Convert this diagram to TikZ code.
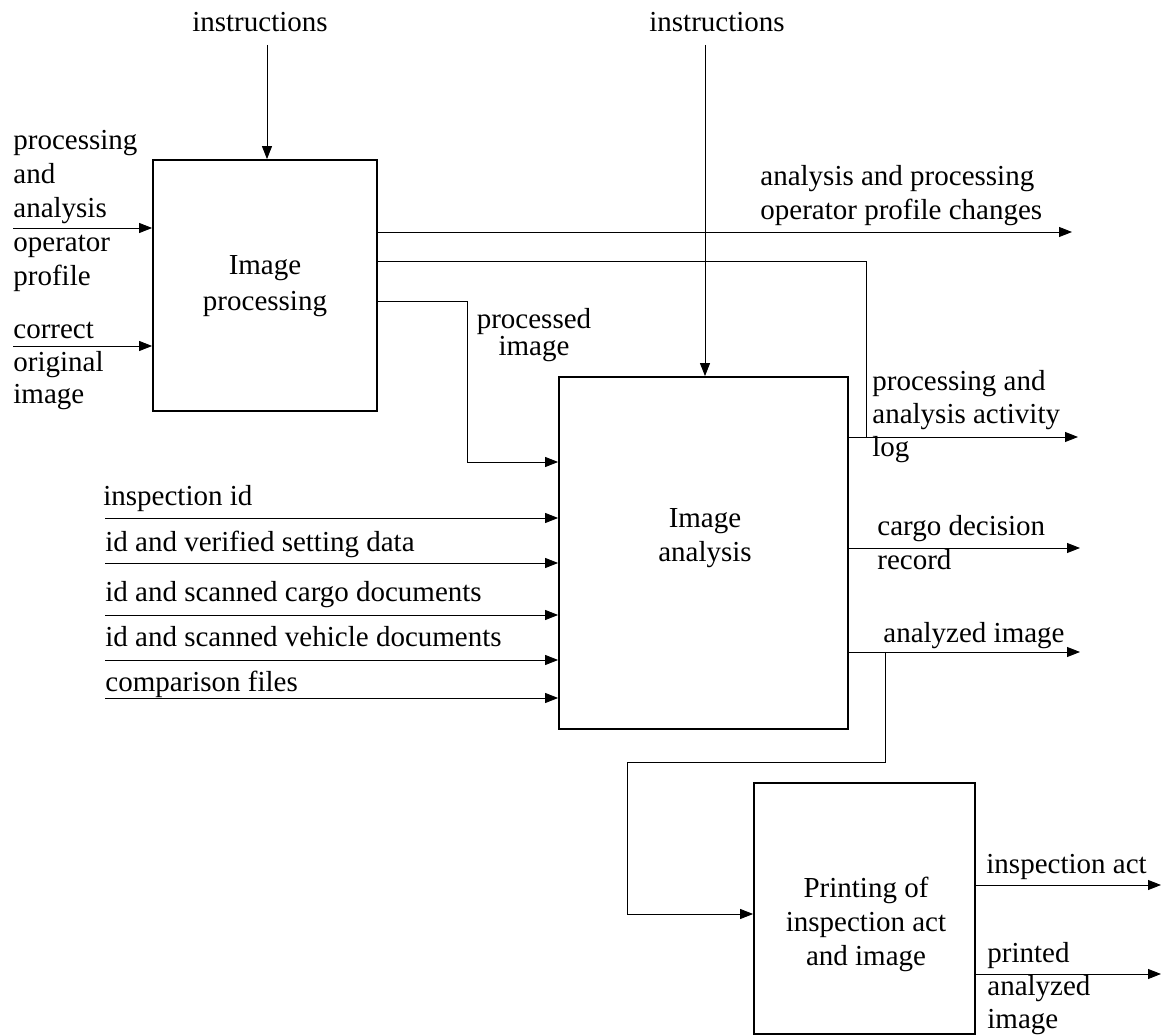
\documentclass[tikz,border=0pt]{standalone}
\usepackage{fontspec}
\setmainfont{Liberation Serif}
\usetikzlibrary{arrows.meta,positioning}

\tikzset{
  blk/.style={draw, line width=0.9pt, inner sep=0pt},
  lbl/.style={inner sep=0pt, align=left, anchor=north west},
  ctr/.style={inner sep=0pt, align=center, anchor=north},
  ln/.style={line width=0.45pt},
  arr/.style={ln, -{Triangle[length=6.5pt,width=5pt]}},
}

\begin{document}
\begin{tikzpicture}[x=0.5pt, y=-0.5pt, font={\fontsize{14.5}{17}\selectfont}]
    \useasboundingbox (0,0) rectangle (1161,1036);

    % Function blocks
    \node[blk, minimum width=112pt, minimum height=125.5pt] (proc) at (265,285.5) {};
    \node[blk, minimum width=144.5pt, minimum height=176pt] (ana) at (703.5,553) {};
    \node[blk, minimum width=110.5pt, minimum height=125.5pt] (prn) at (864.5,908.5) {};

    \node[ctr] (proctxt) at (265,255) {Image\\[1pt]processing};
    \node[ctr] (anatxt) at (705,508) {Image\\analysis};
    \node[ctr] (prntxt) at (866,877) {Printing of\\inspection act\\and image};

    % Controls
    \node[ctr] (instr1) at (260,12) {instructions};
    \node[ctr] (instr2) at (717,12) {instructions};
    \coordinate (i1) at (267,45);
    \coordinate (i2) at (705,45);
    \draw[arr] (i1) -- (i1 |- proc.north);
    \draw[arr] (i2) -- (i2 |- ana.north);

    % Inputs of image processing
    \node[lbl] (profin) at (13,130) {processing\\and\\analysis\\operator\\profile};
    \node[lbl] (origin) at (13,322) {correct\\[-0.7pt]original\\[-0.7pt]image};
    \coordinate (p1) at (13,228);
    \coordinate (p2) at (13,346);
    \draw[arr] (p1) -- (p1 -| proc.west);
    \draw[arr] (p2) -- (p2 -| proc.west);

    % Outputs of image processing
    \node[lbl] (profout) at (760,165) {analysis and processing\\operator profile changes};
    \coordinate (o1) at (1072,232);
    \draw[arr] (o1 -| proc.east) -- (o1);

    \coordinate (lgj) at (866,261);
    \coordinate (lg) at (1078,437);
    \draw[ln] (proc.east |- lgj) -- (lgj) -- (lgj |- lg);

    \node[ctr] (procimg) at (534,308) {processed\\[-3.5pt]image};
    \coordinate (pi) at (467,301);
    \coordinate (pj) at (467,462);
    \draw[arr] (proc.east |- pi) -- (pi) -- (pj) -- (pj -| ana.west);

    % Inputs of image analysis
    \node[lbl] (inspid) at (103,485) {inspection id};
    \node[lbl] (verif) at (105,531) {id and verified setting data};
    \node[lbl] (cargo) at (105,581) {id and scanned cargo documents};
    \node[lbl] (vehic) at (105,626) {id and scanned vehicle documents};
    \node[lbl] (compf) at (105,671) {comparison files};
    \foreach \y [count=\i] in {518,563,615,660,698} {
        \coordinate (in\i) at (105,\y);
        \draw[arr] (in\i) -- (in\i -| ana.west);
    }

    % Outputs of image analysis
    \node[lbl] (actlog) at (872,370) {processing and\\[-0.5pt]analysis activity\\[-0.5pt]log};
    \draw[arr] (lg -| ana.east) -- (lg);

    \node[lbl] (decis) at (877,515) {cargo decision\\record};
    \coordinate (dc) at (1080,548);
    \draw[arr] (dc -| ana.east) -- (dc);

    \node[lbl] (anaimg) at (883,622) {analyzed image};
    \coordinate (ai) at (1080,652);
    \draw[arr] (ai -| ana.east) -- (ai);

    % Analyzed image to printing
    \coordinate (br) at (885,652);
    \coordinate (bd) at (885,762);
    \coordinate (bl) at (627,914);
    \draw[arr] (br) -- (bd) -| (bl) -- (bl -| prn.west);

    % Outputs of printing
    \node[lbl] (act) at (986,854) {inspection act};
    \coordinate (ac) at (1161,885);
    \draw[arr] (ac -| prn.east) -- (ac);

    \node[lbl] (printed) at (987,942) {printed\\[-0.5pt]analyzed\\[-0.5pt]image};
    \coordinate (pr) at (1161,974);
    \draw[arr] (pr -| prn.east) -- (pr);

\end{tikzpicture}
\end{document}
